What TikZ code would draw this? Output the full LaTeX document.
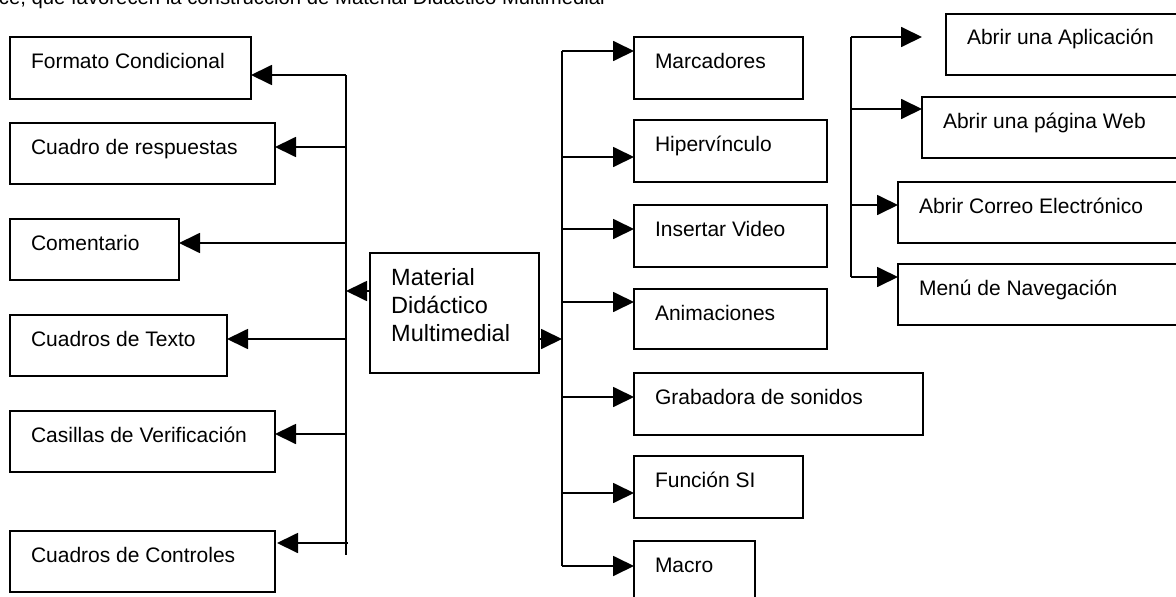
\documentclass[tikz,border=0pt]{standalone}
\usepackage{fontspec}
\setmainfont{Liberation Sans}
\usetikzlibrary{arrows.meta}
\tikzset{
  boxst/.style={draw=black, line width=1.8pt, rectangle, inner sep=0pt, outer sep=0pt},
  lbl/.style={anchor=base west, inner sep=0pt, outer sep=0pt, font=\fontsize{21}{25}\selectfont},
  conn/.style={line width=1.8pt, draw=black},
  arr/.style={conn, -{Triangle[length=21pt,width=20pt]}},
}
\newcommand\mkbox[6]{%
  \node[boxst, minimum width={(#4-#2)*1pt}, minimum height={(#5-#3)*1pt}] (#1) at ({(#2+#4)/2},{(#3+#5)/2}) {};
  \node[lbl] (#1-t) at ({#2+21},{#3+31}) {#6};}
\begin{document}
\begin{tikzpicture}[x=1pt,y=-1pt]
\useasboundingbox (0,0) rectangle (1176,597);
\clip (0,0) rectangle (1176,597);
\fill[white] (0,0) rectangle (1176,597);
% clipped heading line
\node[anchor=base east, inner sep=0pt, font=\fontsize{20.3}{24}\selectfont] (head) at (605,4.5) {ice, que favorecen la construcción de Material Didáctico Multimedial};
% left group
\mkbox{fc}{10}{37}{251}{99}{Formato Condicional}
\mkbox{cr}{10}{123}{275}{184}{Cuadro de respuestas}
\mkbox{co}{10}{219}{179}{280}{Comentario}
\mkbox{ct}{10}{315}{227}{376}{Cuadros de Texto}
\mkbox{cv}{10}{411}{275}{472}{Casillas de Verificación}
\mkbox{cc}{10}{531}{275}{592}{Cuadros de Controles}
% centre
\node[boxst, minimum width=169pt, minimum height=120pt] (mat) at (454.5,313) {};
\node[anchor=north west, inner sep=0pt, align=left, font=\fontsize{23.5}{28}\selectfont] (mat-t) at (391,268.5) {Material\\Didáctico\\Multimedial};
% middle group
\mkbox{ma}{634}{37}{803}{99}{Marcadores}
\mkbox{hi}{634}{120}{827}{182}{Hipervínculo}
\mkbox{iv}{634}{205}{827}{267}{Insertar Video}
\mkbox{an}{634}{289}{827}{349}{Animaciones}
\mkbox{gs}{634}{373}{923}{435}{Grabadora de sonidos}
\mkbox{fs}{634}{456}{803}{518}{Función SI}
\mkbox{mc}{634}{541}{755}{625}{Macro}
% right group
\mkbox{ap}{946}{14}{1200}{75}{Abrir una Aplicación}
\mkbox{wb}{922}{97}{1200}{158}{Abrir una página Web}
\mkbox{ce}{898}{182}{1200}{243}{Abrir Correo Electrónico}
\mkbox{mn}{898}{264}{1200}{325}{Menú de Navegación}
% left connectors
\coordinate (Ltop) at (346,75);
\coordinate (Lbot) at (346,555);
\draw[conn] (Ltop) -- (Lbot);
\coordinate (L2) at (346,147);
\coordinate (L3) at (346,243);
\coordinate (L4) at (346,339);
\coordinate (L5) at (346,434);
\coordinate (L6) at (348,543);
\draw[arr] (Ltop) -- (Ltop -| fc.east);
\draw[arr] (L2) -- (L2 -| cr.east);
\draw[arr] (L3) -- (L3 -| co.east);
\draw[arr] (L4) -- (L4 -| ct.east);
\draw[arr] (L5) -- (L5 -| cv.east);
\draw[arr, shorten >=2pt] (L6) -- (L6 -| cc.east);
% centre connectors
\coordinate (ML) at (346,291);
\coordinate (MR) at (562,339);
\draw[arr] (ML -| mat.west) -- (ML);
\draw[arr] (MR -| mat.east) -- (MR);
% middle connectors
\coordinate (Rtop) at (562,51);
\coordinate (Rbot) at (562,566);
\draw[conn] (Rtop) -- (Rbot);
\coordinate (R2) at (562,157);
\coordinate (R3) at (562,229);
\coordinate (R4) at (562,302);
\coordinate (R5) at (562,397);
\coordinate (R6) at (562,493);
\draw[arr] (Rtop) -- (Rtop -| ma.west);
\draw[arr] (R2) -- (R2 -| hi.west);
\draw[arr] (R3) -- (R3 -| iv.west);
\draw[arr] (R4) -- (R4 -| an.west);
\draw[arr] (R5) -- (R5 -| gs.west);
\draw[arr] (R6) -- (R6 -| fs.west);
\draw[arr] (Rbot) -- (Rbot -| mc.west);
% right connectors
\coordinate (Ftop) at (851,37);
\coordinate (Fbot) at (851,277);
\draw[conn] (Ftop) -- (Fbot);
\coordinate (F2) at (851,109);
\coordinate (F3) at (851,205);
\draw[arr, shorten >=24pt] (Ftop) -- (Ftop -| ap.west);
\draw[arr] (F2) -- (F2 -| wb.west);
\draw[arr] (F3) -- (F3 -| ce.west);
\draw[arr] (Fbot) -- (Fbot -| mn.west);
\end{tikzpicture}
\end{document}
